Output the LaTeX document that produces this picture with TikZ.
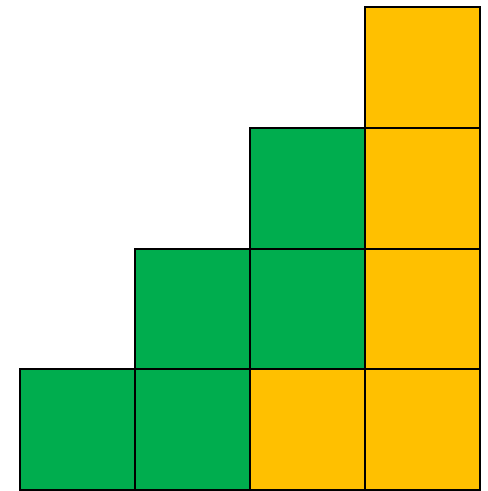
\documentclass[tikz,border=0pt]{standalone}
\usepackage{xcolor}
\definecolor{cellgreen}{HTML}{00AD4E}
\definecolor{cellyellow}{HTML}{FFC000}
\usetikzlibrary{positioning}

\begin{document}
\begin{tikzpicture}[x=0.5pt,y=-0.5pt]
  \tikzset{cell/.style={draw=black,line width=1pt}}
  \useasboundingbox (0,0) rectangle (487,491);
  % column, row (0 = top), colour
  \foreach \c/\r/\col in {0/3/cellgreen,
                          1/2/cellgreen, 1/3/cellgreen,
                          2/1/cellgreen, 2/2/cellgreen, 2/3/cellyellow,
                          3/0/cellyellow, 3/1/cellyellow, 3/2/cellyellow, 3/3/cellyellow} {
    \draw[cell,fill=\col] ({20+115*\c},{7+120.75*\r}) rectangle ++(115,120.75);
  }
\end{tikzpicture}
\end{document}
